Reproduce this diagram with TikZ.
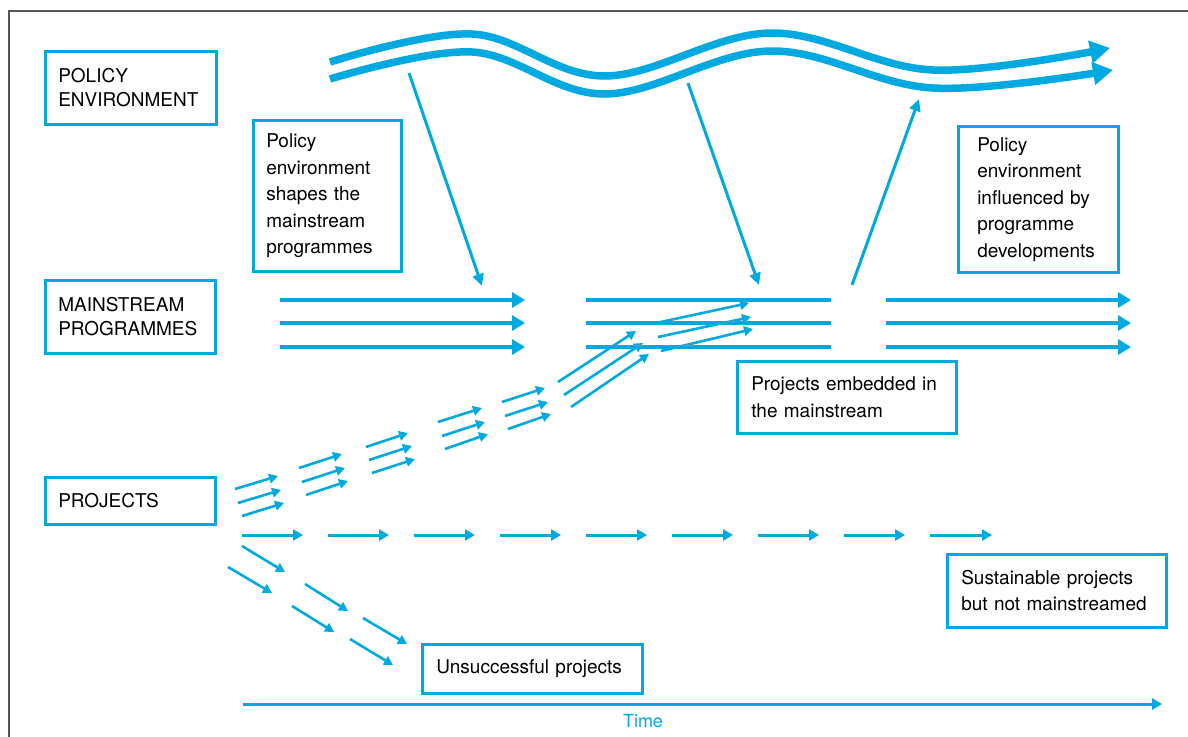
\documentclass[tikz,border=0pt]{standalone}
\usepackage{fontspec}
\setmainfont{TeX Gyre Heros}
\usetikzlibrary{arrows.meta}
\definecolor{ProgCyan}{RGB}{0,169,224}
\definecolor{FrameGray}{RGB}{85,85,85}
\tikzset{
  box/.style={draw=ProgCyan,line width=2.5pt,inner xsep=13pt,inner ysep=0pt,align=left,
    anchor=north west,font=\fontsize{19}{26.5}\selectfont},
  capsbox/.style={box,font=\fontsize{19}{24}\selectfont},
  wave/.style={draw=ProgCyan,line width=7.5pt,-{Triangle[length=20pt,width=22pt]}},
  flow/.style={draw=ProgCyan,line width=4pt,-{Triangle[length=13pt,width=15pt]}},
  stream/.style={draw=ProgCyan,line width=4pt},
}
\tikzset{influence/.style={draw=ProgCyan,line width=3pt,-{Triangle[length=12pt,width=11pt]}}, proj/.style={draw=ProgCyan,line width=2.6pt,-{Triangle[length=9pt,width=9.5pt]}},dashflow/.style={draw=ProgCyan,line width=3pt,-{Triangle[length=10pt,width=11pt]}}}

\begin{document}
\begin{tikzpicture}[x=1pt,y=-1pt]
\useasboundingbox (0,0) rectangle (1188,736);
\draw[FrameGray,line width=2pt] (9,740) -- (9,11) -- (1192,11);
\node[capsbox,text width=145pt,minimum height=73pt] (pe) at (44,50) {POLICY\\ENVIRONMENT};
\node[capsbox,text width=144pt,minimum height=73pt] (ms) at (44,279) {MAINSTREAM\\PROGRAMMES};
\node[capsbox,text width=144pt,minimum height=47pt] (pj) at (44,476) {PROJECTS};
\node[box,text width=122pt,minimum height=151pt] (shapes) at (252,119) {Policy\\environment\\shapes the\\mainstream\\programmes};
\node[box,inner xsep=19pt,text width=122pt,minimum height=146pt] (influenced) at (957,125) {Policy\\environment\\influenced by\\programme\\developments};
\node[box,inner xsep=14pt,text width=191pt,minimum height=72pt] (embedded) at (736,360) {Projects embedded in\\the mainstream};
\node[box,inner xsep=14pt,text width=191pt,minimum height=73pt] (sustain) at (946,553) {Sustainable projects\\but not mainstreamed};
\node[box,inner xsep=14pt,text width=192pt,minimum height=49pt] (unsucc) at (421,643) {Unsuccessful projects};
\node[font=\fontsize{18}{20}\selectfont,text=ProgCyan] (time) at (643,721) {Time};
% policy environment
\draw[wave] plot[smooth,tension=0.6] coordinates {(330,62) (472,34) (605,76) (770,33) (933,70) (1110,48)};
\draw[wave] plot[smooth,tension=0.6] coordinates {(330,79) (472,52) (605,94) (770,51) (933,88) (1113,70)};
% mainstream programmes
\draw[flow] (280,300) -- (525,300);
\draw[flow] (280,323) -- (525,323);
\draw[flow] (280,347) -- (525,347);
\draw[stream] (586,300) -- (831,300);
\draw[stream] (586,323) -- (831,323);
\draw[stream] (586,347) -- (831,347);
\draw[flow] (886,300) -- (1131,300);
\draw[flow] (886,323) -- (1131,323);
\draw[flow] (886,347) -- (1131,347);
% shaping and influence
\coordinate (s1) at (409,73);
\coordinate (e1) at (482,286);
\coordinate (s2) at (688,83);
\coordinate (e2) at (759,285);
\coordinate (s3) at (852,285);
\coordinate (e3) at (919,99);
\draw[influence] (s1) -- (e1);
\draw[influence] (s2) -- (e2);
\draw[influence] (s3) -- (e3);
% projects
\draw[proj] (235,489) -- (278,476);
\draw[proj] (238,503) -- (281,490);
\draw[proj] (242,516) -- (284,503);
\draw[proj] (299,468) -- (342,454);
\draw[proj] (302,482) -- (345,468);
\draw[proj] (306,495) -- (348,481);
\draw[proj] (366,447) -- (408,433);
\draw[proj] (369,460) -- (412,446);
\draw[proj] (372,473) -- (415,459);
\draw[proj] (438,422) -- (482,408);
\draw[proj] (442,436) -- (485,422);
\draw[proj] (445,449) -- (488,434);
\draw[proj] (502,402) -- (545,388);
\draw[proj] (505,416) -- (548,402);
\draw[proj] (508,429) -- (551,414);
\draw[proj] (558,382) -- (636,331);
\draw[proj] (564,395) -- (643,343);
\draw[proj] (571,407) -- (649,354);
\draw[proj] (656,323) -- (749,303);
\draw[proj] (658,337) -- (751,317);
\draw[proj] (661,351) -- (753,329);
% sustainable
\draw[dashflow] (242,535) -- (303,535);
\draw[dashflow] (328,535) -- (389,535);
\draw[dashflow] (414,535) -- (475,535);
\draw[dashflow] (500,535) -- (561,535);
\draw[dashflow] (586,535) -- (647,535);
\draw[dashflow] (672,535) -- (733,535);
\draw[dashflow] (758,535) -- (819,535);
\draw[dashflow] (844,535) -- (905,535);
\draw[dashflow] (930,535) -- (992,535);
% unsuccessful
\draw[proj] (242,546) -- (285,572);
\draw[proj] (228,567) -- (272,593);
\draw[proj] (305,584) -- (348,611);
\draw[proj] (292,606) -- (334,632);
\draw[proj] (363,618) -- (407,644);
\draw[proj] (350,639) -- (393,665);
% time
\coordinate (t0) at (243,704);
\coordinate (t1) at (1162,704);
\draw[dashflow] (t0) -- (t1);
\end{tikzpicture}
\end{document}
